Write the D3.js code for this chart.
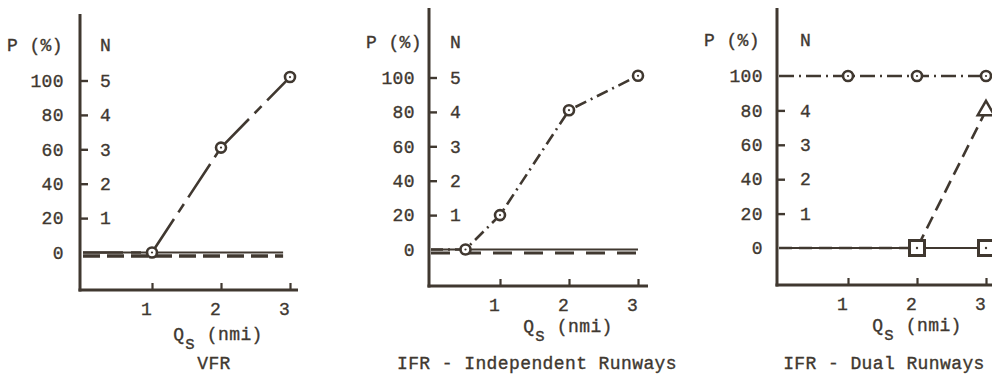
<!DOCTYPE html>
<html><head><meta charset="utf-8">
<script src="https://cdn.jsdelivr.net/npm/d3@7"></script>
<style>
html,body{margin:0;padding:0;background:#fff;}
svg{display:block;background:#fff;}
text{font-family:"Liberation Mono","DejaVu Sans Mono",monospace;font-size:18px;fill:#403830;stroke:#403830;stroke-width:0.35px;letter-spacing:0.4px;}
</style></head><body>
<svg id="c" width="992" height="375"></svg>
<script>
// ---------------- data ----------------
const qsTicks = [1, 2, 3];
const pTicks  = [0, 20, 40, 60, 80, 100];
const nTicks  = [1, 2, 3, 4, 5];            // N scale (N = P / 20)
const nTicksDual = [1, 2, 3, 4];            // "5" hidden under the 100 % line
const panelTitles = ["VFR", "IFR - Independent Runways", "IFR - Dual Runways"];

// VFR
const vfrQs     = [0, 1, 2, 3];
const vfrP      = [0, 0, 61, 102];
const vfrBaseQs = [0, 2.9];
const vfrSolidP = [0, 0];
const vfrDashP  = [-2, -2];

// IFR - Independent Runways
const indQs     = [0, 0.5, 1, 2, 3];
const indP      = [0, 0, 20, 81, 101];
const indBaseQs = [0, 3];
const indSolidP = [0, 0];
const indDashP  = [-2, -2];

// IFR - Dual Runways
const dualCircQs = [0, 1, 2, 3];
const dualCircP  = [100, 100, 100, 100];
const dualTriQs  = [0, 2, 3];
const dualTriP   = [0, 0, 80];
const dualSqQs   = [0, 2, 3];
const dualSqP    = [0, 0, 0];

// ---------------- layout ----------------
const ink = "#403830";
const layouts = [
  {axisX:80,  x0:83,  x3:290, xEnd:298, y0:252.5, y100:80.5, yTop:14, yBot:290, pRight:64,  pHeadRight:63,  nLeft:100, qX:218, qDy:44, titleX:214},
  {axisX:429, x0:431, x3:638, xEnd:648, y0:249.5, y100:77.5, yTop:8,  yBot:286, pRight:415, pHeadRight:422, nLeft:450, qX:568, qDy:40, titleX:537},
  {axisX:777, x0:779, x3:986, xEnd:995, y0:248,   y100:76,   yTop:8,  yBot:285, pRight:763, pHeadRight:760, nLeft:800, qX:917, qDy:40, titleX:884}
];

const zip = (qs, ps) => qs.map((q, i) => ({q, p: ps[i]}));

const panels = [
  { title: panelTitles[0], nVals: nTicks, series: [
      {pts: zip(vfrBaseQs, vfrSolidP), dash: null, w: 2},
      {pts: zip(vfrBaseQs, vfrDashP), dash: "17,7", w: 3.5},
      {pts: zip(vfrQs, vfrP), dash: "40,8,10,8", w: 2.6, perSeg: true, marker: "circle", markFrom: 1}
  ]},
  { title: panelTitles[1], nVals: nTicks, series: [
      {pts: zip(indBaseQs, indSolidP), dash: null, w: 2.2},
      {pts: zip(indBaseQs, indDashP), dash: "19,12", w: 3},
      {pts: zip(indQs, indP), dash: "12,5,2,5", w: 2.6, marker: "circle", markFrom: 1}
  ]},
  { title: panelTitles[2], nVals: nTicksDual, series: [
      {pts: zip(dualSqQs, dualSqP), dash: null, w: 2},
      {pts: zip(dualTriQs, dualTriP), dash: "13,7", w: 2.6, marker: "triangle", markFrom: 2},
      {pts: zip(dualCircQs, dualCircP), dash: "15,5,2,5", w: 2.6, marker: "circle", markFrom: 1},
      {pts: zip(dualSqQs, dualSqP).slice(1), dash: null, w: 0, marker: "square", markFrom: 0}
  ]}
];

const svg = d3.select("#c");

function drawPanel(L, P) {
  const g = svg.append("g").attr("color", ink);
  const x = d3.scaleLinear().domain([0, 3]).range([L.x0, L.x3]);
  const y = d3.scaleLinear().domain([0, 100]).range([L.y0, L.y100]);

  // P (%) labels
  const pAx = g.append("g").attr("transform", `translate(${L.axisX},0)`)
    .call(d3.axisLeft(y).tickValues(pTicks).tickSize(0).tickPadding(L.axisX - L.pRight).tickFormat(d3.format("d")));
  pAx.select(".domain").remove();

  // N labels with short ticks
  const nAx = g.append("g").attr("transform", `translate(${L.axisX},0)`)
    .call(d3.axisRight(y).tickValues(P.nVals.map(n => n * 20)).tickSize(8)
      .tickPadding(L.nLeft - L.axisX - 8).tickFormat(d => d / 20));
  nAx.select(".domain").remove();
  nAx.selectAll("line").attr("stroke-width", 2.4);

  // x axis
  const xAx = g.append("g").attr("transform", `translate(0,${L.yBot})`)
    .call(d3.axisBottom(x).tickValues(qsTicks).tickSize(-7).tickPadding(12).tickFormat(d3.format("d")));
  xAx.select(".domain").remove();
  xAx.selectAll("line").attr("stroke-width", 2.2);
  xAx.selectAll("text").attr("dx", -6);

  // axis lines
  g.append("line").attr("x1", L.axisX).attr("x2", L.axisX).attr("y1", L.yTop).attr("y2", L.yBot + 1.5)
    .attr("stroke", ink).attr("stroke-width", 3);
  g.append("line").attr("x1", L.axisX - 1.5).attr("x2", L.xEnd).attr("y1", L.yBot).attr("y2", L.yBot)
    .attr("stroke", ink).attr("stroke-width", 3);

  // headers
  g.append("text").attr("x", L.pHeadRight).attr("y", L.y100 - 36).attr("dy", "0.35em")
    .attr("text-anchor", "end").text("P (%)");
  g.append("text").attr("x", L.nLeft).attr("y", L.y100 - 36).attr("dy", "0.35em")
    .attr("text-anchor", "start").text("N");

  // x label
  const q = g.append("text").attr("x", L.qX).attr("y", L.yBot + L.qDy).attr("dy", "0.35em")
    .attr("text-anchor", "middle");
  q.append("tspan").text("Q");
  q.append("tspan").attr("dy", 9).text("s");
  q.append("tspan").attr("dy", -9).text(" (nmi)");

  // title
  g.append("text").attr("x", L.titleX).attr("y", 363).attr("dy", "0.35em")
    .attr("text-anchor", "middle").text(P.title);

  const line = d3.line().x(d => x(d.q)).y(d => y(d.p));

  P.series.forEach(s => {
    if (s.w > 0) {
      const segs = s.perSeg ? d3.pairs(s.pts) : [s.pts];
      segs.forEach(seg => {
        g.append("path").attr("d", line(seg)).attr("fill", "none")
          .attr("stroke", ink).attr("stroke-width", s.w)
          .attr("stroke-dasharray", s.dash)
          .attr("stroke-linejoin", "round");
      });
    }
  });
  P.series.forEach(s => {
    if (!s.marker) return;
    s.pts.slice(s.markFrom).forEach(d => {
      const cx = x(d.q), cy = y(d.p);
      if (s.marker === "circle") {
        g.append("circle").attr("cx", cx).attr("cy", cy).attr("r", 5)
          .attr("fill", "#fff").attr("stroke", ink).attr("stroke-width", 2.6);
        g.append("circle").attr("cx", cx).attr("cy", cy).attr("r", 1.1).attr("fill", ink);
      } else if (s.marker === "square") {
        g.append("rect").attr("x", cx - 7.5).attr("y", cy - 7.5).attr("width", 15).attr("height", 15)
          .attr("fill", "#fff").attr("stroke", ink).attr("stroke-width", 3);
        g.append("circle").attr("cx", cx).attr("cy", cy).attr("r", 1.2).attr("fill", ink);
      } else if (s.marker === "triangle") {
        g.append("path").attr("d", d3.symbol(d3.symbolTriangle, 120)())
          .attr("transform", `translate(${cx},${cy})`)
          .attr("fill", "#fff").attr("stroke", ink).attr("stroke-width", 2.5);
      }
    });
  });
}

layouts.forEach((L, i) => drawPanel(L, panels[i]));
</script></body></html>
